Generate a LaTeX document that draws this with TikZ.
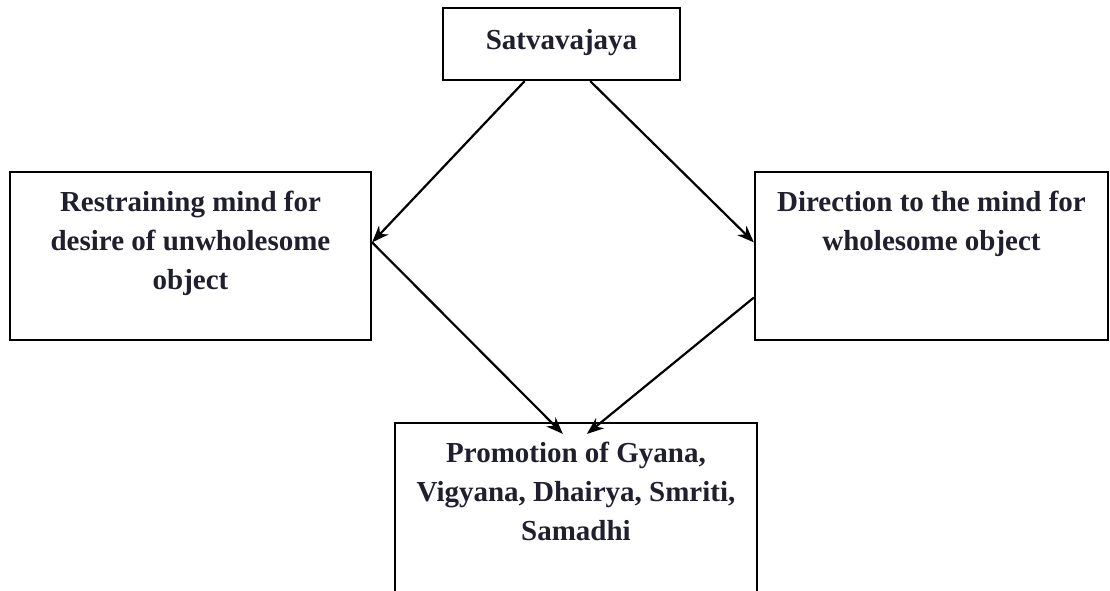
\documentclass[tikz,border=0pt]{standalone}
\usepackage{fontspec}
\setmainfont{Liberation Serif}
\usepackage{tikz}
\usetikzlibrary{arrows.meta}
\usetikzlibrary{positioning}
\usetikzlibrary{calc}
\tikzset{box/.style = {draw, line width = 2.2pt, rectangle, inner sep = 0}}
\tikzset{label/.style = {anchor = north, inner sep = 0, align = center, text = ink,
    font = \fontsize{29}{39}\selectfont\bfseries}}
\tikzset{link/.style = {line width = 2.2pt, -{Stealth[length = 17pt, width = 13pt]}}}
\definecolor{ink}{rgb}{0.12, 0.12, 0.18}

\begin{document}
\begin{tikzpicture}[x = 1pt, y = -1pt]
    \clip (0, 0) rectangle (1110, 590);
    \useasboundingbox (0, 0) rectangle (1110, 590);

    % boxes
    \node [box, minimum width = 237, minimum height = 72] (satva) at (561.5, 44) {};
    \node [box, minimum width = 361, minimum height = 168] (restrain) at (190.5, 256) {};
    \node [box, minimum width = 353, minimum height = 168] (direct) at (931.5, 256) {};
    \node [box, minimum width = 362, minimum height = 200] (promo) at (576, 523) {};

    % texts
    \node [label, below = 22pt of satva.north] (satvatext) {Satvavajaya};
    \node [label, below = 20pt of restrain.north] (restraintext)
      {Restraining mind for\\desire of unwholesome\\object};
    \node [label, below = 20pt of direct.north] (directtext)
      {Direction to the mind for\\wholesome object};
    \node [label, below = 20pt of promo.north] (promotext)
      {Promotion of Gyana,\\Vigyana, Dhairya, Smriti,\\Samadhi};

    % arrow ends
    \coordinate (sl) at ($(satva.south west)!0.346!(satva.south east)$);
    \coordinate (sr) at ($(satva.south west)!0.62!(satva.south east)$);
    \coordinate (re) at ($(restrain.north east)!0.42!(restrain.south east)$);
    \coordinate (dw) at ($(direct.north west)!0.42!(direct.south west)$);
    \coordinate (dl) at ($(direct.north west)!0.744!(direct.south west)$);
    \coordinate (pl) at ($(promo.north west)!0.464!(promo.north east) + (0, 12)$);
    \coordinate (pr) at ($(promo.north west)!0.53!(promo.north east) + (0, 12)$);

    \draw [link] (sl) -- (re);
    \draw [link] (sr) -- (dw);
    \draw [link] (re) -- (pl);
    \draw [link] (dl) -- (pr);
  \end{tikzpicture}
\end{document}
